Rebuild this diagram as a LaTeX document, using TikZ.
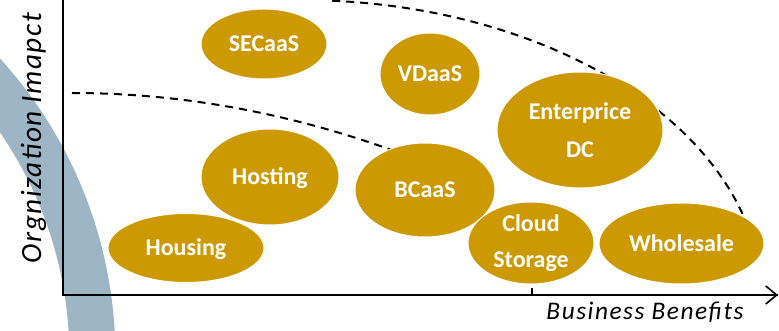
\documentclass[tikz,border=0pt]{standalone}
\usepackage{fontspec}
\setmainfont{Carlito}
\usetikzlibrary{arrows.meta,shapes.geometric}
\definecolor{gold}{RGB}{204,153,0}
\definecolor{steel}{RGB}{157,181,197}
\begin{document}
\begin{tikzpicture}[x=0.75pt,y=-0.75pt,
  blob/.style={ellipse, fill=gold, draw=white, line width=0.75pt, inner sep=0pt,
    text=white, font=\fontsize{18}{28.5}\selectfont\bfseries},
  rad/.style 2 args={minimum width=#1*1.5pt, minimum height=#2*1.5pt},
  oneline/.style={text height=11.6pt, text depth=0pt},
  twoline/.style={align=center},
  axisline/.style={line width=1.5pt, black},
  bound/.style={line width=1.5pt, dash pattern=on 6pt off 4.5pt},
  axislabel/.style={inner sep=0pt, font=\fontsize{#1}{#1}\selectfont\itshape}
]
\useasboundingbox (0,0) rectangle (779,331);
\clip (0,0) rectangle (779,331);

% decorative band behind the chart: a wide ring, only its upper right part shows
\coordinate (ringcentre) at (-327.6,356.7);
\draw[steel, line width=34.5pt] (ringcentre) circle[radius=315pt];

% boundary curves
\draw[bound] (300,300) ++(-86:462 and 300) arc[start angle=-86, end angle=-16.5, x radius=462, y radius=300];
\draw[bound] (72,93) .. controls (181.3,93) and (290.7,113) .. (400,153);

% axes
\coordinate (origin) at (63,295);
\coordinate (ytop) at (63,-2);
\coordinate (xend) at (778,295);
\coordinate (tickbase) at (532,295);
\coordinate (ticktop) at (532,288);
\draw[axisline] (ytop) -- (origin) -- (xend);
\draw[axisline, -{Straight Barb[length=8.25pt, width=13.5pt, line width=1.2pt]}] (origin) -- (xend);
\draw[line width=0.8pt] (tickbase) -- (ticktop);

\node[axislabel=22, rotate=90] (ylab) at (33.5,138)
  {\addfontfeatures{LetterSpace=5}Orgnization Imapct};
\node[axislabel=19, anchor=base] (xlab) at (645,320)
  {\addfontfeatures{LetterSpace=6}Business Benefits};

% offerings
\node[blob, oneline, rad={63}{35}] (secaas) at (264,44) {SECaaS};
\node[blob, oneline, rad={50}{41}] (vdaas) at (430,74) {VDaaS};
\node[blob, twoline, rad={83}{58}] (entdc) at (580,130) {Enterprice\\DC};
\node[blob, oneline, rad={69}{48}] (hosting) at (270,177) {Hosting};
\node[blob, oneline, rad={70}{47}] (bcaas) at (425,190) {BCaaS};
\node[blob, oneline, rad={78}{34.5}] (housing) at (186,248) {Housing};
\node[blob, twoline, rad={63}{41}, font=\fontsize{18}{27}\selectfont\bfseries] (cloud) at (531,243) {Cloud\\Storage};
\node[blob, oneline, rad={82.5}{40.5}] (wholesale) at (681.5,243.5) {Wholesale};
\end{tikzpicture}
\end{document}
